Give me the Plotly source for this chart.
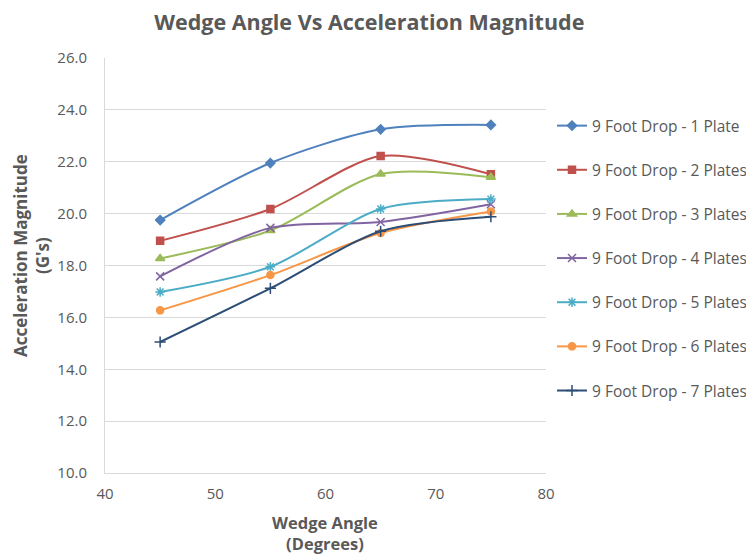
import plotly.graph_objects as go

angles = [45, 55, 65, 75]
series_names = [
    "9 Foot Drop - 1 Plate",
    "9 Foot Drop - 2 Plates",
    "9 Foot Drop - 3 Plates",
    "9 Foot Drop - 4 Plates",
    "9 Foot Drop - 5 Plates",
    "9 Foot Drop - 6 Plates",
    "9 Foot Drop - 7 Plates",
]
plate1 = [19.75, 21.95, 23.25, 23.42]
plate2 = [18.95, 20.18, 22.22, 21.52]
plate3 = [18.27, 19.35, 21.53, 21.40]
plate4 = [17.58, 19.45, 19.68, 20.36]
plate5 = [16.98, 17.95, 20.18, 20.56]
plate6 = [16.27, 17.63, 19.25, 20.08]
plate7 = [15.05, 17.12, 19.32, 19.88]
all_values = [plate1, plate2, plate3, plate4, plate5, plate6, plate7]

colors = ["#4F81BD", "#C0504D", "#9BBB59", "#8064A2", "#4BACC6", "#F79646", "#2C4D75"]
symbols = ["diamond", "square", "triangle-up", "x-thin-open", "asterisk-open", "circle", "cross-thin-open"]
sizes = [7, 7, 8, 8, 8, 7, 8]

fig = go.Figure()
for i, (name, vals) in enumerate(zip(series_names, all_values)):
    fig.add_trace(go.Scatter(
        x=angles, y=vals, name=name, mode="lines+markers",
        line=dict(color=colors[i], width=2, shape="spline", smoothing=0.8),
        marker=dict(symbol=symbols[i], size=sizes[i], color=colors[i],
                    line=dict(color=colors[i], width=1.5)),
        legendgroup=str(i),
    ))

font_family = "Open Sans, Lato, sans-serif"
gray = "#595959"
fig.update_layout(
    width=746, height=555,
    paper_bgcolor="white", plot_bgcolor="white",
    margin=dict(l=105, r=200, t=58, b=82, autoexpand=False),
    title=dict(text="<b>Wedge Angle Vs Acceleration Magnitude</b>", x=0.495, xanchor="center",
               xref="container", y=0.973, yanchor="top",
               font=dict(family=font_family, size=21.5, color=gray)),
    font=dict(family=font_family, color=gray, size=14),
    xaxis=dict(range=[40, 80], dtick=10, showgrid=False, showline=True, linecolor="#D9D9D9",
               ticks="", zeroline=False, tickfont=dict(size=15, color=gray), automargin=False,
               ticklabelstandoff=7),
    yaxis=dict(range=[10, 26], dtick=2, tickformat=".1f", showgrid=True, gridcolor="#D9D9D9",
               showline=True, linecolor="#D9D9D9", ticks="", zeroline=False,
               tickfont=dict(size=15, color=gray), automargin=False, ticklabelstandoff=14),
    legend=dict(x=1.0136, y=0.877, xanchor="left", yanchor="top", tracegroupgap=21,
                font=dict(size=15.5, color=gray), itemwidth=30, bgcolor="rgba(0,0,0,0)"),
    annotations=[
        dict(text="<b>Acceleration Magnitude<br>(G's)</b>", xref="paper", yref="paper",
             x=-0.1655, y=0.523, xanchor="center", yanchor="middle", textangle=-90,
             showarrow=False, font=dict(size=17, color=gray)),
        dict(text="<b>Wedge Angle<br>(Degrees)</b>", xref="paper", yref="paper",
             x=0.499, y=-0.1446, xanchor="center", yanchor="middle",
             showarrow=False, font=dict(size=16.5, color=gray)),
    ],
)
fig.write_html("out.html", config={"displayModeBar": False},
               post_script="document.body.style.margin='0';document.body.style.overflow='hidden';")
